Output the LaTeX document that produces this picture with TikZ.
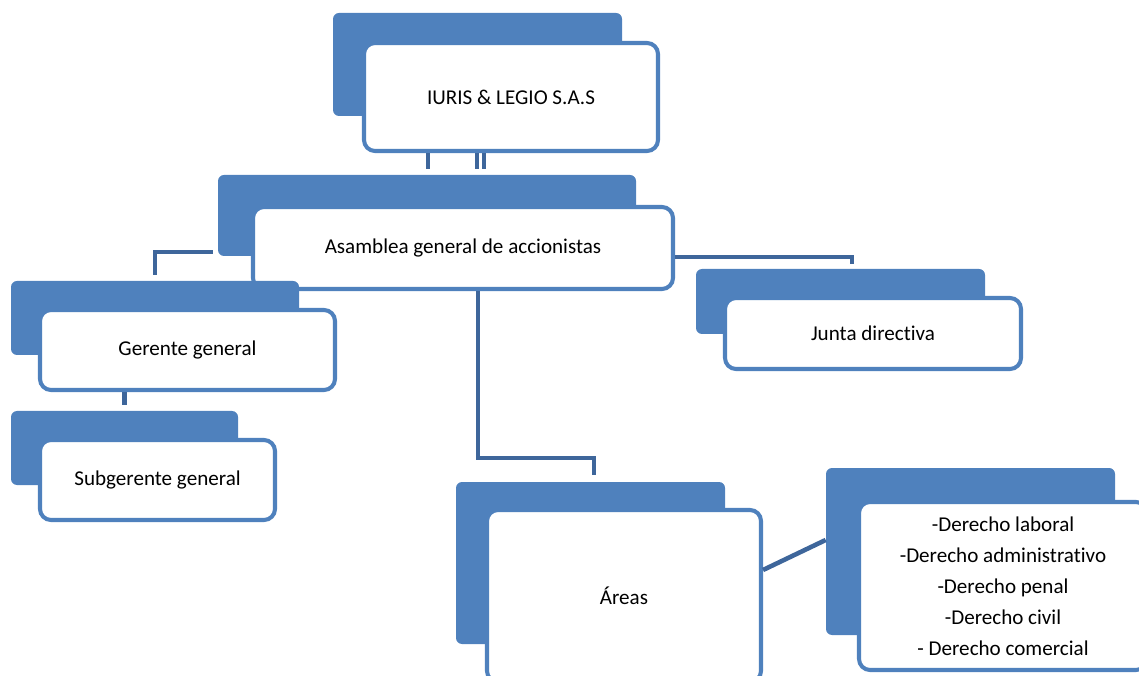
\documentclass[tikz,border=0pt]{standalone}
\usepackage{fontspec}
\setmainfont{Carlito}[Ligatures=NoCommon]
\definecolor{boxblue}{RGB}{79,129,189}
\definecolor{linkblue}{RGB}{62,102,155}

\begin{document}
\begin{tikzpicture}[
  backbox/.style={fill=boxblue,rounded corners=0.12cm,inner sep=0pt},
  frontbox/.style={draw=boxblue,fill=white,line width=2.3pt,rounded corners=0.22cm,
    inner sep=0pt,align=center,font=\fontsize{12}{17.6}\selectfont},
  link/.style={draw=linkblue,line width=2.6pt}]
\useasboundingbox (0,0) rectangle (22.78,-13.52);
\clip (0,0) rectangle (22.78,-13.52);
% top
\node[backbox,minimum width=5.78cm,minimum height=2.06cm] (iurisback) at (9.55,-1.29) {};
\node[frontbox,minimum width=5.88cm,minimum height=2.16cm] (iuris) at (10.22,-1.94) {IURIS \& LEGIO S.A.S};
\node[backbox,minimum width=8.36cm,minimum height=1.62cm] (asambleaback) at (8.54,-4.31) {};
\node[frontbox,minimum width=8.40cm,minimum height=1.64cm] (asamblea) at (9.26,-4.96) {Asamblea general de accionistas};
% left branch
\node[backbox,minimum width=5.76cm,minimum height=1.48cm] (gerenteback) at (3.10,-6.36) {};
\node[frontbox,minimum width=5.90cm,minimum height=1.60cm] (gerente) at (3.75,-7.00) {Gerente general};
\node[backbox,minimum width=4.54cm,minimum height=1.48cm] (subback) at (2.49,-8.96) {};
\node[frontbox,minimum width=4.70cm,minimum height=1.60cm] (sub) at (3.15,-9.60) {Subgerente general};
% right branch
\node[backbox,minimum width=5.78cm,minimum height=1.30cm] (juntaback) at (16.81,-6.03) {};
\node[frontbox,minimum width=5.92cm,minimum height=1.42cm] (junta) at (17.46,-6.67) {Junta directiva};
% bottom
\node[backbox,minimum width=5.38cm,minimum height=3.24cm] (areasback) at (11.81,-11.26) {};
\node[frontbox,minimum width=5.48cm,minimum height=3.44cm] (areas) at (12.48,-11.92) {\'Areas};
\node[backbox,minimum width=5.78cm,minimum height=3.34cm] (derechoback) at (19.41,-11.03) {};
\node[frontbox,minimum width=5.76cm,minimum height=3.36cm] (derecho) at (20.06,-11.72)
  {-Derecho laboral\\-Derecho administrativo\\-Derecho penal\\-Derecho civil\\- Derecho comercial};
% connectors
\draw[link] ([xshift=-1.66cm]iuris.south) -- ([xshift=-1.66cm,yshift=0.12cm]iuris.south |- asambleaback.north);
\draw[link] ([xshift=-0.68cm]iuris.south) -- ([xshift=-0.68cm,yshift=0.12cm]iuris.south |- asambleaback.north);
\draw[link] ([xshift=-0.54cm]iuris.south) -- ([xshift=-0.54cm,yshift=0.12cm]iuris.south |- asambleaback.north);
\draw[link] ([xshift=-0.1cm,yshift=-0.73cm]asambleaback.west) -| ([yshift=0.12cm]gerenteback.north);
\draw[link] (gerente.south -| subback.north) -- ([yshift=0.12cm]subback.north);
\draw[link] ([yshift=-0.18cm]asamblea.east) -| ([xshift=0.23cm,yshift=0.1cm]juntaback.north);
\draw[link] ([xshift=0.3cm]asamblea.south) -- ++(0,-3.34) -| ([xshift=0.07cm,yshift=0.14cm]areasback.north);
\draw[link] ([yshift=0.52cm]areas.east) -- ([yshift=0.23cm]derechoback.west);
\end{tikzpicture}
\end{document}
